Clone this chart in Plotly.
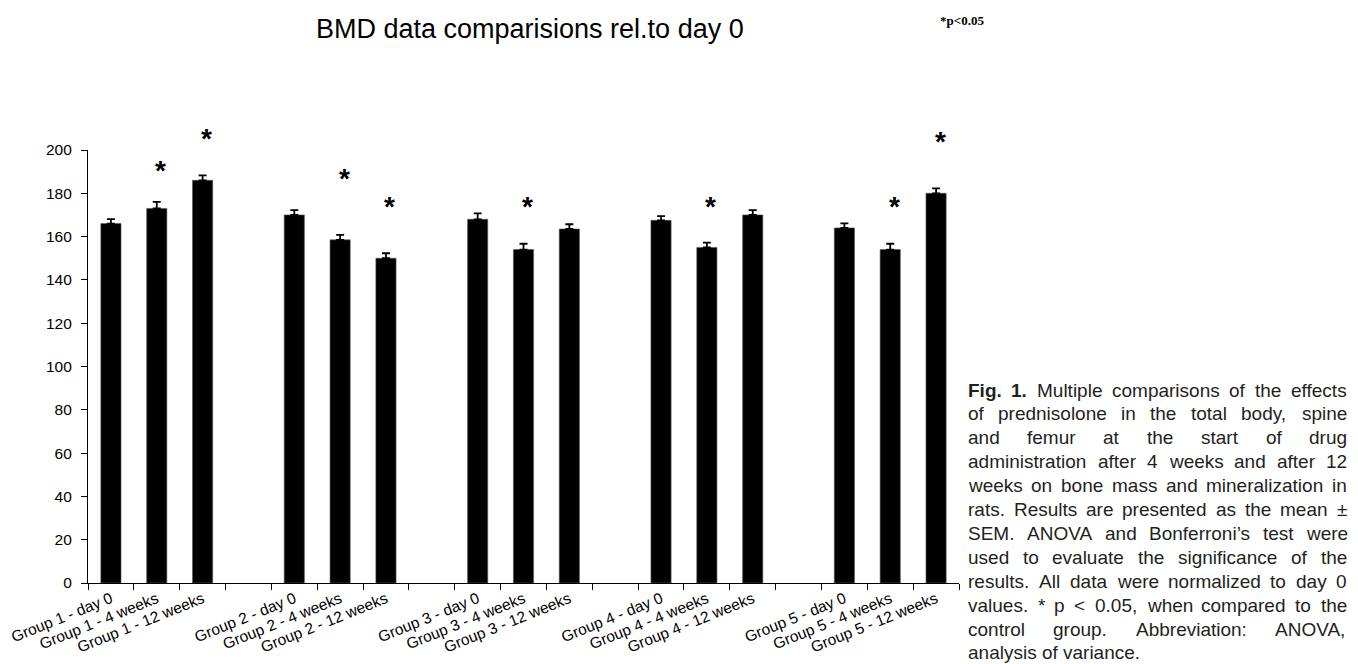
import plotly.graph_objects as go

# ---------------- data ----------------
groups = ["Group 1", "Group 2", "Group 3", "Group 4", "Group 5"]
times = ["day 0", "4 weeks", "12 weeks"]
bmd_mean = [166, 173, 186,
            170, 158.5, 150,
            168, 154, 163.5,
            167.5, 155, 170,
            164, 154, 180]
bmd_sem = [2.1, 3.0, 2.3,
           2.2, 2.3, 2.3,
           2.7, 2.7, 2.2,
           2.0, 2.2, 2.2,
           2.1, 2.7, 2.3]
significant = [False, True, True,
               False, True, True,
               False, True, False,
               False, True, False,
               False, True, True]
star_heights = [None, 192, 206.8,
                None, 188.3, 175.5,
                None, 175.5, None,
                None, 175.5, None,
                None, 175.5, 205.3]
y_ticks = [0, 20, 40, 60, 80, 100, 120, 140, 160, 180, 200]
y_max = 200

title_text = "BMD data comparisions rel.to day 0"
pnote_text = "*p<0.05"
caption_lines = [
    "Fig. 1. Multiple comparisons of the effects",
    "of prednisolone in the total body, spine",
    "and femur at the start of drug",
    "administration after 4 weeks and after 12",
    "weeks on bone mass and mineralization in",
    "rats. Results are presented as the mean \u00b1",
    "SEM. ANOVA and Bonferroni\u2019s test were",
    "used to evaluate the significance of the",
    "results. All data were normalized to day 0",
    "values. * p < 0.05, when compared to the",
    "control group. Abbreviation: ANOVA,",
    "analysis of variance.",
]

# ---------------- categories ----------------
bar_labels = [f"{g} - {t}" for g in groups for t in times]
all_categories = []
for gi, g in enumerate(groups):
    all_categories += [f"{g} - {t}" for t in times]
    if gi < len(groups) - 1:
        all_categories.append(" " * (gi + 1))

# ---------------- layout geometry ----------------
# page has an 8px body margin, so the figure is drawn 8px in from the corner
OFF = 8
W, H = 1358 - OFF, 664 - OFF
PLOT_X0, PLOT_X1 = 88, 959   # page pixels
PLOT_Y0, PLOT_Y1 = 150, 583  # page pixels
L = PLOT_X0 - OFF
T = PLOT_Y0 - OFF
R = W - (PLOT_X1 - OFF)
B = H - (PLOT_Y1 - OFF)
PW, PH = PLOT_X1 - PLOT_X0, PLOT_Y1 - PLOT_Y0

def px(x):
    return (x - PLOT_X0) / PW

def py(y):
    return (PLOT_Y1 - y) / PH

FONT = "Liberation Sans, Arial, Helvetica, sans-serif"

fig = go.Figure()
fig.add_trace(go.Bar(
    x=bar_labels, y=bmd_mean, width=0.44,
    marker=dict(color="black", line=dict(color="#555555", width=0.6)),
    error_y=dict(type="data", symmetric=False, array=bmd_sem,
                 arrayminus=[0] * len(bmd_sem),
                 color="black", thickness=1.8, width=4),
    showlegend=False, hoverinfo="x+y",
))

annotations = []
# significance stars
for lab, sig, sh in zip(bar_labels, significant, star_heights):
    if sig:
        annotations.append(dict(x=lab, y=sh / y_max, xref="x", yref="y domain", text="<b>*</b>",
                                showarrow=False, xshift=4, yshift=-3,
                                xanchor="center", yanchor="middle",
                                font=dict(family=FONT, size=28, color="black")))

# title & p-note
annotations.append(dict(x=px(530), y=py(29), xref="paper", yref="paper",
                        text=title_text, showarrow=False, xanchor="center", yanchor="middle",
                        font=dict(family=FONT, size=27, color="black")))
annotations.append(dict(x=px(986), y=py(20), xref="paper", yref="paper",
                        text="<b>" + pnote_text + "</b>", showarrow=False,
                        xanchor="right", yanchor="middle",
                        font=dict(family="Liberation Serif, Times New Roman, serif", size=13, color="black")))

# ---------------- justified caption ----------------
AW = {' ': 278, "'": 191, '\u2019': 222, '(': 333, ')': 333, '*': 389, ',': 278, '-': 333,
      '.': 278, ':': 278, '<': 584, '\u00b1': 549,
      'A': 667, 'B': 667, 'C': 722, 'D': 722, 'E': 667, 'F': 611, 'G': 778, 'H': 722, 'I': 278,
      'J': 500, 'K': 667, 'L': 556, 'M': 833, 'N': 722, 'O': 778, 'P': 667, 'Q': 778, 'R': 722,
      'S': 667, 'T': 611, 'U': 722, 'V': 667, 'W': 944, 'X': 667, 'Y': 667, 'Z': 611,
      'a': 556, 'b': 556, 'c': 500, 'd': 556, 'e': 556, 'f': 278, 'g': 556, 'h': 556, 'i': 222,
      'j': 222, 'k': 500, 'l': 222, 'm': 833, 'n': 556, 'o': 556, 'p': 556, 'q': 556, 'r': 333,
      's': 500, 't': 278, 'u': 556, 'v': 500, 'w': 722, 'x': 500, 'y': 500, 'z': 500}
AWB = {'F': 611, 'i': 278, 'g': 611, '.': 278, '1': 556, ' ': 278}

def wwidth(word, size, bold=False):
    tbl = AWB if bold else AW
    return sum(tbl.get(c, 556) for c in word) * size / 1000.0

CAP_SIZE = 19
cap_x0, cap_x1 = 968, 1347
cap_y0, cap_dy = 390, 23.9
for li, line in enumerate(caption_lines):
    words = line.split(" ")
    bolds = [False] * len(words)
    if li == 0:
        bolds[0] = bolds[1] = True
    widths = [wwidth(w, CAP_SIZE, b) for w, b in zip(words, bolds)]
    yy = cap_y0 + li * cap_dy
    if li == len(caption_lines) - 1:
        gap = wwidth(" ", CAP_SIZE)
    else:
        gap = (cap_x1 - cap_x0 - sum(widths)) / (len(words) - 1)
    xx = cap_x0
    for w, b, ww in zip(words, bolds, widths):
        annotations.append(dict(x=px(xx - 2), y=py(yy), xref="paper", yref="paper",
                                text=("<b>" + w + "</b>") if b else w, showarrow=False,
                                xanchor="left", yanchor="middle",
                                font=dict(family=FONT, size=CAP_SIZE, color="#231f20")))
        xx += ww + gap

fig.update_layout(
    width=W, height=H,
    margin=dict(l=L, r=R, t=T, b=B, autoexpand=False),
    paper_bgcolor="white", plot_bgcolor="white",
    annotations=annotations,
    xaxis=dict(type="category", categoryorder="array", categoryarray=all_categories,
               range=[-0.5, len(all_categories) - 0.5],
               showline=True, linecolor="black", linewidth=1.2,
               ticks="outside", tickson="boundaries", ticklen=6, tickcolor="black", tickwidth=1.2,
               tickangle=-22, showgrid=False, zeroline=False,
               tickfont=dict(family=FONT, size=15.5, color="black")),
    yaxis=dict(range=[0, y_max], tickvals=y_ticks, showline=True, linecolor="black", linewidth=1.2,
               ticks="outside", ticklen=6, tickcolor="black", tickwidth=1.2,
               showgrid=False, zeroline=False, ticklabelstandoff=6,
               tickfont=dict(family=FONT, size=15.5, color="black")),
    bargap=0.56,
)

fig.write_html("out.html")
